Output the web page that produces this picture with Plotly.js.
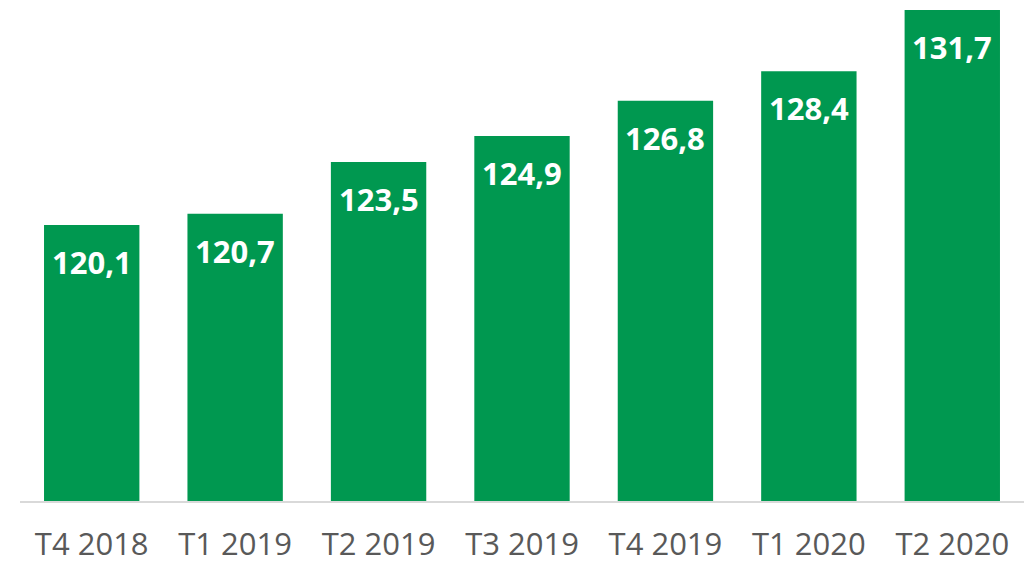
<!DOCTYPE html>
<html>
<head>
<meta charset="utf-8">
<script src="https://cdn.plot.ly/plotly-3.0.1.min.js"></script>
<style>html,body{margin:0;padding:0;background:#fff;}#chart{width:1036px;height:566px;}</style>
</head>
<body>
<div id="chart"></div>
<script>
const categories = ["T4 2018", "T1 2019", "T2 2019", "T3 2019", "T4 2019", "T1 2020", "T2 2020"];
const values = [120.1, 120.7, 123.5, 124.9, 126.8, 128.4, 131.7];
const valueLabels = values.map(v => v.toFixed(1).replace(".", ","));

const trace = {
  type: "bar",
  x: categories,
  y: values,
  marker: {color: "#009850"},
  hoverinfo: "x+y"
};

const annotations = categories.map((c, i) => ({
  x: c,
  y: values[i],
  xref: "x",
  yref: "y",
  text: valueLabels[i],
  showarrow: false,
  yanchor: "middle",
  yshift: -37,
  font: {family: "Open Sans, Noto Sans, sans-serif", size: 31, color: "#ffffff", weight: "bold"}
}));

const layout = {
  width: 1036,
  height: 566,
  margin: {l: 20, r: 12, t: 10, b: 65},
  paper_bgcolor: "#ffffff",
  plot_bgcolor: "#ffffff",
  bargap: 0.335,
  showlegend: false,
  xaxis: {
    type: "category",
    showline: true,
    linecolor: "#d9d9d9",
    linewidth: 1.5,
    ticks: "",
    showgrid: false,
    zeroline: false,
    tickfont: {family: "Open Sans, Noto Sans, sans-serif", size: 31, color: "#595959"},
    ticklabelstandoff: 15
  },
  yaxis: {
    range: [105.2, 131.7],
    showticklabels: false,
    showgrid: false,
    zeroline: false,
    showline: false,
    ticks: ""
  },
  annotations: annotations
};

Plotly.newPlot("chart", [trace], layout, {displayModeBar: false, staticPlot: true});
</script>
</body>
</html>
